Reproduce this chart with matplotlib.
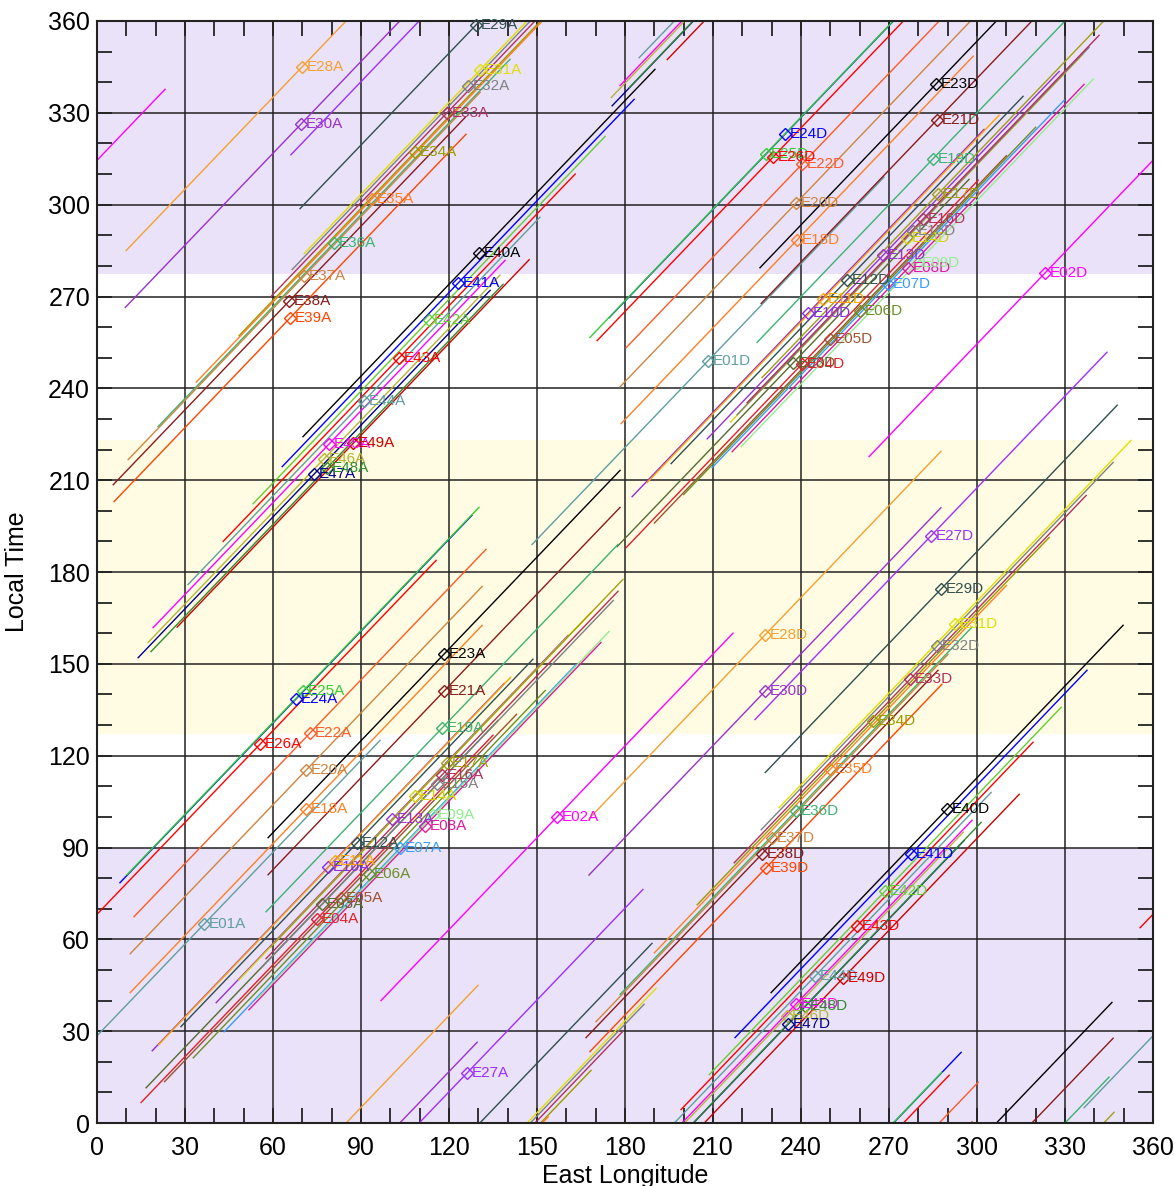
import numpy as np
import matplotlib
matplotlib.use('Agg')
import matplotlib.pyplot as plt

plt.rcParams['font.family'] = ['Liberation Sans', 'DejaVu Sans']

# crossing points (longitude, local time in degrees)
orbits = list(range(1, 50))
asc_lon = [36.5, 156.8, 76.7, 75.0, 83.0, 92.8, 103.3, 111.8, 114.6, 78.8,
           81.0, 88.6, 100.6, 108.4, 116.0, 117.6, 119.3, 71.3, 117.6, 71.3,
           118.3, 72.6, 118.3, 67.8, 70.2, 55.6, 126.1, 69.9, 129.2, 69.6,
           130.6, 126.5, 119.3, 108.4, 93.8, 80.8, 70.6, 65.5, 65.8, 130.2,
           123.1, 113.2, 103.0, 91.0, 79.1, 77.4, 74.0, 78.4, 87.3]
asc_lt = [65.0, 100.0, 71.5, 66.7, 73.5, 81.3, 89.8, 97.0, 100.6, 83.6,
          85.6, 91.5, 99.3, 106.8, 110.7, 113.7, 117.6, 102.6, 129.0, 115.3,
          141.1, 127.4, 153.2, 138.5, 141.1, 123.8, 16.3, 345.0, 358.7, 326.4,
          344.0, 338.8, 330.0, 317.2, 302.0, 287.5, 276.7, 268.5, 263.0, 284.2,
          274.4, 262.3, 250.0, 235.9, 221.8, 217.0, 212.0, 214.0, 222.0]
dsc_lon = [208.3, 323.2, 237.3, 240.4, 250.0, 260.0, 269.7, 276.5, 279.6, 242.4,
           247.5, 255.7, 268.0, 276.0, 278.2, 281.6, 286.7, 238.7, 285.0, 238.3,
           286.4, 240.4, 286.0, 234.6, 228.0, 230.5, 284.3, 227.7, 287.8, 227.7,
           292.5, 286.4, 277.2, 264.6, 250.0, 238.3, 230.1, 226.7, 228.0, 289.8,
           277.5, 268.7, 259.1, 244.8, 238.3, 235.3, 235.6, 241.4, 254.4]
dsc_lt = [249.0, 277.7, 248.3, 248.0, 256.0, 265.3, 274.1, 279.3, 281.0, 264.6,
          269.2, 275.4, 283.5, 289.0, 291.4, 295.3, 303.5, 288.5, 315.0, 300.5,
          327.7, 313.3, 339.4, 323.1, 316.6, 315.6, 191.8, 159.4, 174.5, 141.0,
          163.0, 155.8, 145.0, 131.3, 115.6, 102.0, 93.1, 87.9, 83.3, 102.6,
          87.9, 75.8, 64.4, 48.0, 38.9, 35.0, 32.3, 38.2, 47.4]
colors = ['#5F9EA0', '#FF00FF', '#556B2F', '#E0202A', '#A0522D', '#6B8E23', '#3A9BFF',
          '#E2189C', '#90EE90', '#8A2BE2', '#FFA500', '#2F4F4F', '#9932CC', '#D4D400',
          '#808080', '#B03060', '#A0A010', '#FF7F24', '#3CB371', '#CD853F', '#8B1A1A',
          '#FF5A26', '#000000', '#0000FF', '#32CD32', '#FF0000', '#9B30FF', '#F5A030',
          '#2F4F4F', '#9932CC', '#E0E000', '#808080', '#B03060', '#9A9A00', '#FF7F24',
          '#3CB371', '#CD853F', '#8B1A1A', '#FF4500', '#000000', '#0000FF', '#66CC33',
          '#FF0000', '#5F9EA0', '#FF00FF', '#B5B535', '#00008B', '#2E8B2E', '#CD0000']
TRACK_HALF = 60  # each track runs 60 deg of longitude each side of its crossing

night_bands = [(0, 90), (277.5, 360)]
day_band = (127, 223)


def wrapped_pieces(lon0, lt0):
    # straight track of slope 1 through (lon0, lt0), wrapped in both axes
    c = lt0 - lon0
    a, b = lon0 - TRACK_HALF, lon0 + TRACK_HALF
    cuts = [a, b]
    for k in range(-2, 4):
        for v in (360 * k, 360 * k - c):
            if a < v < b:
                cuts.append(v)
    cuts = sorted(cuts)
    out = []
    for s, e in zip(cuts[:-1], cuts[1:]):
        m = 0.5 * (s + e)
        sx = np.floor(m / 360) * 360
        sy = np.floor((m + c) / 360) * 360
        out.append(([s - sx, e - sx], [s + c - sy, e + c - sy]))
    return out


fig = plt.figure(figsize=(11.75, 11.86), dpi=100)
ax = fig.add_axes([0.0826, 0.0531, 0.8987, 0.9292])

for lo, hi in night_bands:
    ax.axhspan(lo, hi, color='#EAE2F8', lw=0, zorder=0)
ax.axhspan(day_band[0], day_band[1], color='#FFFCE3', lw=0, zorder=0)

# tracks
for i, n in enumerate(orbits):
    for lon0, lt0 in ((asc_lon[i], asc_lt[i]), (dsc_lon[i], dsc_lt[i])):
        for xs, ys in wrapped_pieces(lon0, lt0):
            ax.plot(xs, ys, color=colors[i], lw=1.0, zorder=2)

# crossing markers + labels
for i, n in enumerate(orbits):
    for lon0, lt0, tag in ((asc_lon[i], asc_lt[i], 'A'), (dsc_lon[i], dsc_lt[i], 'D')):
        ax.plot(lon0, lt0, marker='D', ms=6, mfc='none', mec=colors[i], mew=1.0,
                zorder=3, clip_on=False)
        ax.annotate('E%02d%s' % (n, tag), (lon0, lt0), xytext=(3.5, 0),
                    textcoords='offset points', va='center', ha='left',
                    fontsize=11, color=colors[i], zorder=4, annotation_clip=False)

ax.set_xlim(0, 360)
ax.set_ylim(0, 360)
ax.set_xticks(np.arange(0, 361, 30))
ax.set_yticks(np.arange(0, 361, 30))
ax.set_xticks(np.arange(0, 361, 10), minor=True)
ax.set_yticks(np.arange(0, 361, 10), minor=True)
ax.grid(True, which='major', color='#222222', lw=1.1)
ax.set_axisbelow(True)
ax.tick_params(which='both', direction='in', top=True, right=True, length=11,
               width=1.3, color='#222222')
ax.tick_params(axis='x', labelsize=18, pad=9)
ax.tick_params(axis='y', labelsize=18, pad=5)
for sp in ax.spines.values():
    sp.set_linewidth(1.5)
    sp.set_color('#222222')

ax.set_xlabel('East Longitude', fontsize=18)
ax.set_ylabel('Local Time', fontsize=18)
ax.xaxis.set_label_coords(0.5, -0.037)
ax.yaxis.set_label_coords(-0.064, 0.5)

fig.savefig('out.png', dpi=100)
